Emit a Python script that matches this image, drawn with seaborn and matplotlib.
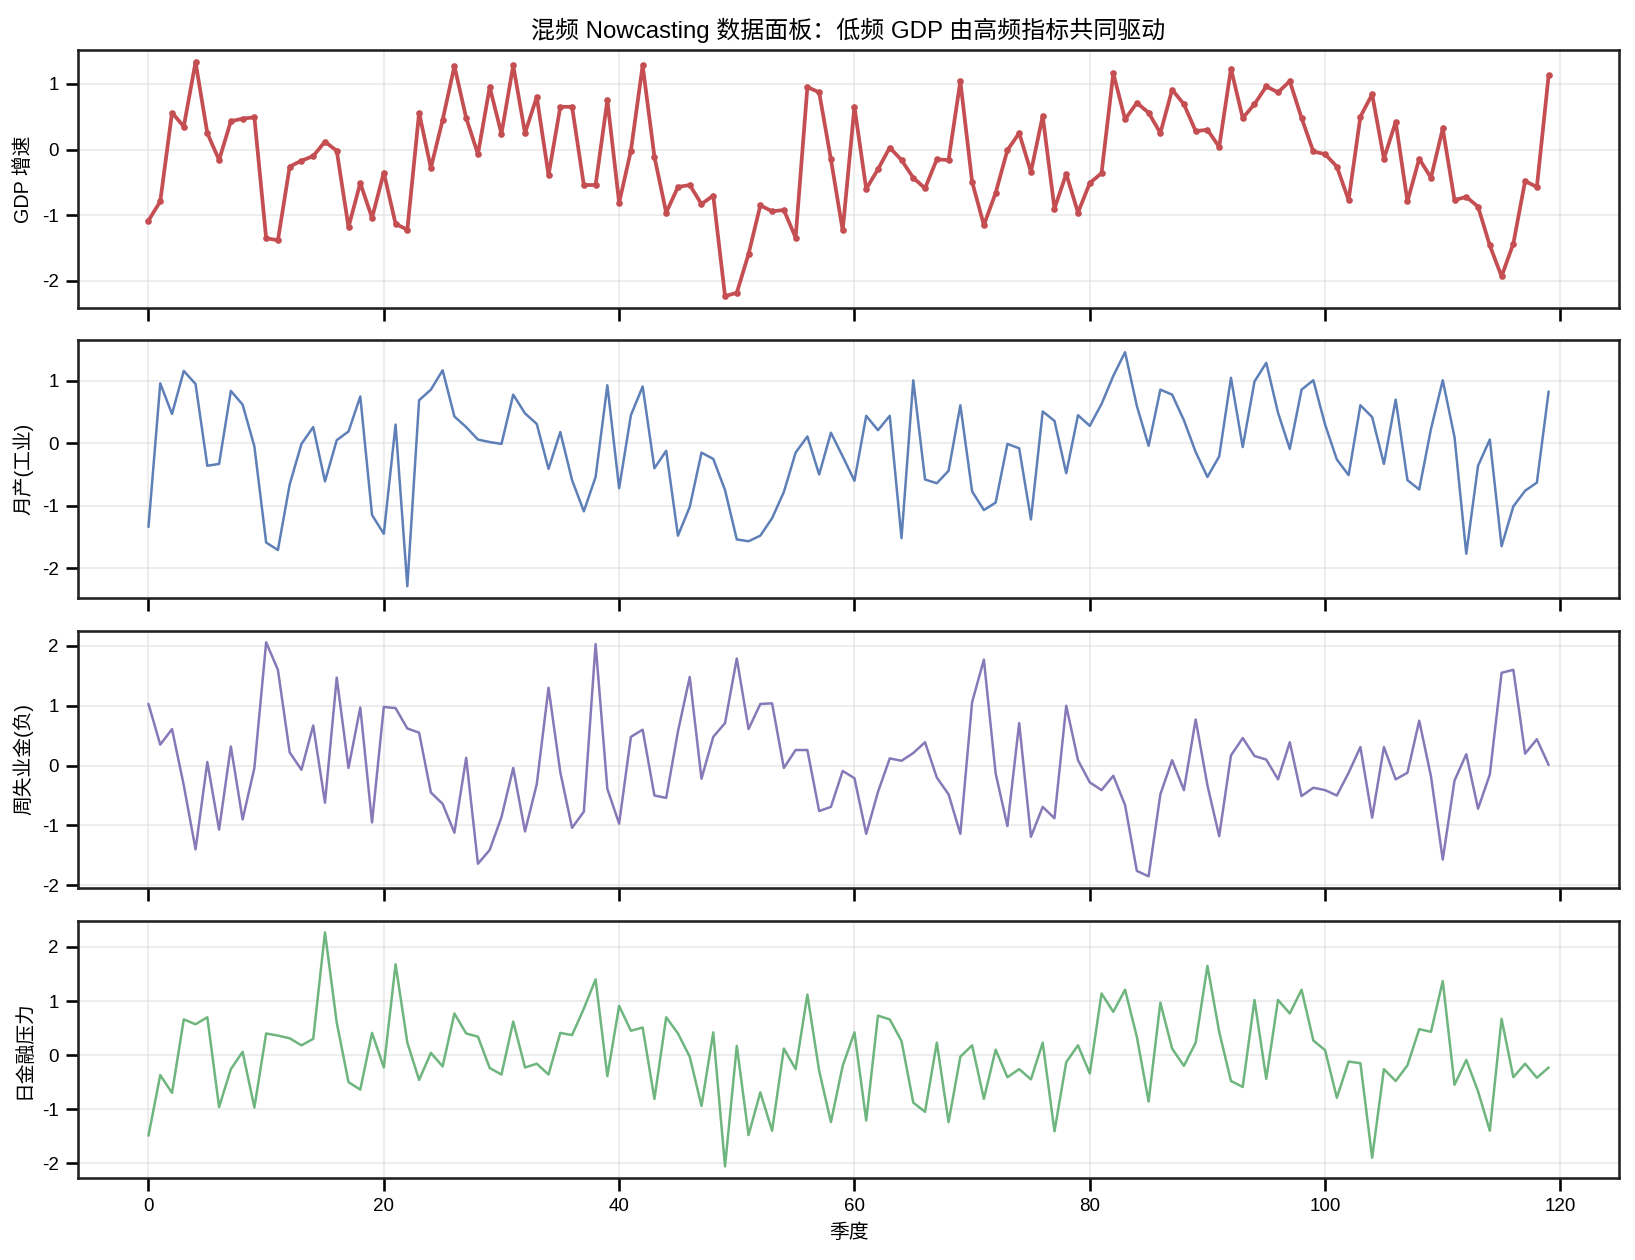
import numpy as np
import pandas as pd
import matplotlib.pyplot as plt
import seaborn as sns

# --- 数据---
quarters = list(range(120))

gdp = [-1.08, -0.79, 0.56, 0.35, 1.33, 0.25, -0.16, 0.43, 0.47, 0.49,
       -1.35, -1.38, -0.26, -0.17, -0.10, 0.12, -0.02, -1.18, -0.51, -1.04,
       -0.35, -1.13, -1.22, 0.56, -0.28, 0.45, 1.27, 0.48, -0.07, 0.95,
       0.24, 1.28, 0.25, 0.80, -0.39, 0.65, 0.65, -0.54, -0.54, 0.75,
       -0.81, -0.02, 1.28, -0.11, -0.96, -0.57, -0.54, -0.83, -0.70, -2.23,
       -2.18, -1.59, -0.85, -0.94, -0.92, -1.34, 0.95, 0.87, -0.15, -1.23,
       0.65, -0.60, -0.30, 0.03, -0.16, -0.43, -0.59, -0.15, -0.16, 1.04,
       -0.49, -1.15, -0.66, -0.01, 0.25, -0.34, 0.51, -0.90, -0.37, -0.96,
       -0.51, -0.36, 1.16, 0.46, 0.71, 0.56, 0.25, 0.91, 0.69, 0.28,
       0.30, 0.04, 1.23, 0.48, 0.69, 0.96, 0.87, 1.04, 0.48, -0.03,
       -0.07, -0.26, -0.77, 0.50, 0.84, -0.14, 0.42, -0.79, -0.14, -0.43,
       0.32, -0.77, -0.72, -0.87, -1.46, -1.93, -1.43, -0.48, -0.57, 1.13]

ind_prod = [-1.34, 0.96, 0.47, 1.16, 0.95, -0.36, -0.33, 0.84, 0.62, -0.05,
            -1.59, -1.71, -0.66, -0.01, 0.26, -0.61, 0.05, 0.19, 0.75, -1.15,
            -1.45, 0.30, -2.29, 0.69, 0.86, 1.17, 0.43, 0.26, 0.06, 0.02,
            -0.01, 0.78, 0.48, 0.31, -0.41, 0.18, -0.59, -1.09, -0.54, 0.93,
            -0.72, 0.45, 0.91, -0.40, -0.12, -1.48, -1.02, -0.15, -0.25, -0.75,
            -1.54, -1.57, -1.48, -1.20, -0.78, -0.15, 0.11, -0.50, 0.17, -0.21,
            -0.60, 0.44, 0.21, 0.44, -1.52, 1.01, -0.58, -0.64, -0.44, 0.61,
            -0.77, -1.07, -0.95, -0.01, -0.08, -1.22, 0.51, 0.36, -0.48, 0.45,
            0.28, 0.63, 1.08, 1.46, 0.60, -0.04, 0.86, 0.78, 0.37, -0.14,
            -0.54, -0.21, 1.05, -0.06, 0.99, 1.29, 0.49, -0.09, 0.86, 1.01,
            0.30, -0.26, -0.51, 0.61, 0.42, -0.33, 0.70, -0.59, -0.74, 0.23,
            1.01, 0.10, -1.77, -0.36, 0.06, -1.65, -1.01, -0.76, -0.63, 0.83]

jobless = [1.03, 0.35, 0.61, -0.33, -1.40, 0.06, -1.07, 0.32, -0.90, -0.04,
           2.06, 1.60, 0.22, -0.07, 0.67, -0.62, 1.47, -0.04, 0.97, -0.95,
           0.98, 0.96, 0.62, 0.55, -0.45, -0.64, -1.12, 0.13, -1.64, -1.41,
           -0.86, -0.04, -1.10, -0.31, 1.30, -0.11, -1.04, -0.77, 2.03, -0.39,
           -0.97, 0.48, 0.60, -0.50, -0.54, 0.57, 1.48, -0.22, 0.48, 0.71,
           1.79, 0.61, 1.03, 1.04, -0.04, 0.26, 0.26, -0.76, -0.69, -0.09,
           -0.21, -1.14, -0.44, 0.12, 0.08, 0.21, 0.39, -0.20, -0.48, -1.14,
           1.06, 1.77, -0.13, -1.01, 0.71, -1.19, -0.69, -0.88, 1.00, 0.09,
           -0.28, -0.41, -0.17, -0.66, -1.76, -1.85, -0.48, 0.09, -0.41, 0.77,
           -0.33, -1.18, 0.17, 0.46, 0.16, 0.10, -0.23, 0.39, -0.51, -0.37,
           -0.41, -0.50, -0.12, 0.31, -0.87, 0.31, -0.23, -0.12, 0.75, -0.18,
           -1.57, -0.25, 0.19, -0.72, -0.15, 1.55, 1.60, 0.20, 0.44, 0.01]

fin_stress = [-1.49, -0.37, -0.70, 0.66, 0.57, 0.70, -0.96, -0.26, 0.06, -0.97,
              0.40, 0.36, 0.31, 0.18, 0.30, 2.27, 0.60, -0.50, -0.64, 0.41,
              -0.23, 1.68, 0.23, -0.46, 0.04, -0.21, 0.77, 0.40, 0.34, -0.24,
              -0.36, 0.62, -0.23, -0.16, -0.36, 0.41, 0.37, 0.86, 1.40, -0.39,
              0.91, 0.45, 0.51, -0.81, 0.70, 0.40, -0.03, -0.94, 0.42, -2.06,
              0.17, -1.48, -0.69, -1.40, 0.12, -0.26, 1.12, -0.29, -1.24, -0.20,
              0.42, -1.21, 0.73, 0.66, 0.26, -0.88, -1.05, 0.23, -1.24, -0.03,
              0.18, -0.81, 0.10, -0.41, -0.26, -0.45, 0.23, -1.41, -0.13, 0.18,
              -0.34, 1.14, 0.80, 1.21, 0.34, -0.86, 0.97, 0.12, -0.20, 0.23,
              1.65, 0.43, -0.48, -0.59, 1.02, -0.44, 1.02, 0.77, 1.21, 0.27,
              0.09, -0.79, -0.12, -0.15, -1.90, -0.26, -0.48, -0.19, 0.48, 0.43,
              1.37, -0.55, -0.09, -0.67, -1.40, 0.67, -0.41, -0.16, -0.42, -0.23]

labels = ['GDP 增速', '月产(工业)', '周失业金(负)', '日金融压力']
colors = ['#C44E52', '#4C72B0', '#8172B3', '#55A868']

sns.set_theme(style='ticks')
plt.rcParams['font.family'] = ['Liberation Sans', 'Noto Sans CJK SC', 'DejaVu Sans']
plt.rcParams['axes.unicode_minus'] = False
plt.rcParams['text.color'] = 'black'
plt.rcParams['axes.labelcolor'] = 'black'
plt.rcParams['xtick.color'] = 'black'
plt.rcParams['ytick.color'] = 'black'

df = pd.DataFrame({'quarter': quarters, 'gdp': gdp, 'ip': ind_prod,
                   'jobless': jobless, 'stress': fin_stress})

fig, axes = plt.subplots(4, 1, figsize=(10.9, 8.4), dpi=150, sharex=True)

# GDP 带点标记，其余为细线
sns.lineplot(data=df, x='quarter', y='gdp', ax=axes[0], color=colors[0],
             linewidth=1.8, marker='o', markersize=3.2, markeredgewidth=0)
sns.lineplot(data=df, x='quarter', y='ip', ax=axes[1], color=colors[1],
             linewidth=1.2, alpha=0.9)
sns.lineplot(data=df, x='quarter', y='jobless', ax=axes[2], color=colors[2],
             linewidth=1.2, alpha=0.95)
sns.lineplot(data=df, x='quarter', y='stress', ax=axes[3], color=colors[3],
             linewidth=1.2, alpha=0.85)

for ax, lab in zip(axes, labels):
    ax.set_ylabel(lab, fontsize=9.5)
    ax.set_xlabel('')
    ax.grid(True, color='#dddddd', alpha=0.6, linewidth=0.8)
    ax.tick_params(labelsize=9)
    for sp in ax.spines.values():
        sp.set_color('#222222')

axes[0].set_title('混频 Nowcasting 数据面板：低频 GDP 由高频指标共同驱动', fontsize=11.5)
axes[3].set_xlabel('季度', fontsize=9.5)
axes[3].set_xticks([0, 20, 40, 60, 80, 100, 120])

fig.subplots_adjust(left=0.048, right=0.990, top=0.960, bottom=0.065, hspace=0.127)
plt.savefig('out.png', dpi=150)
plt.close()
